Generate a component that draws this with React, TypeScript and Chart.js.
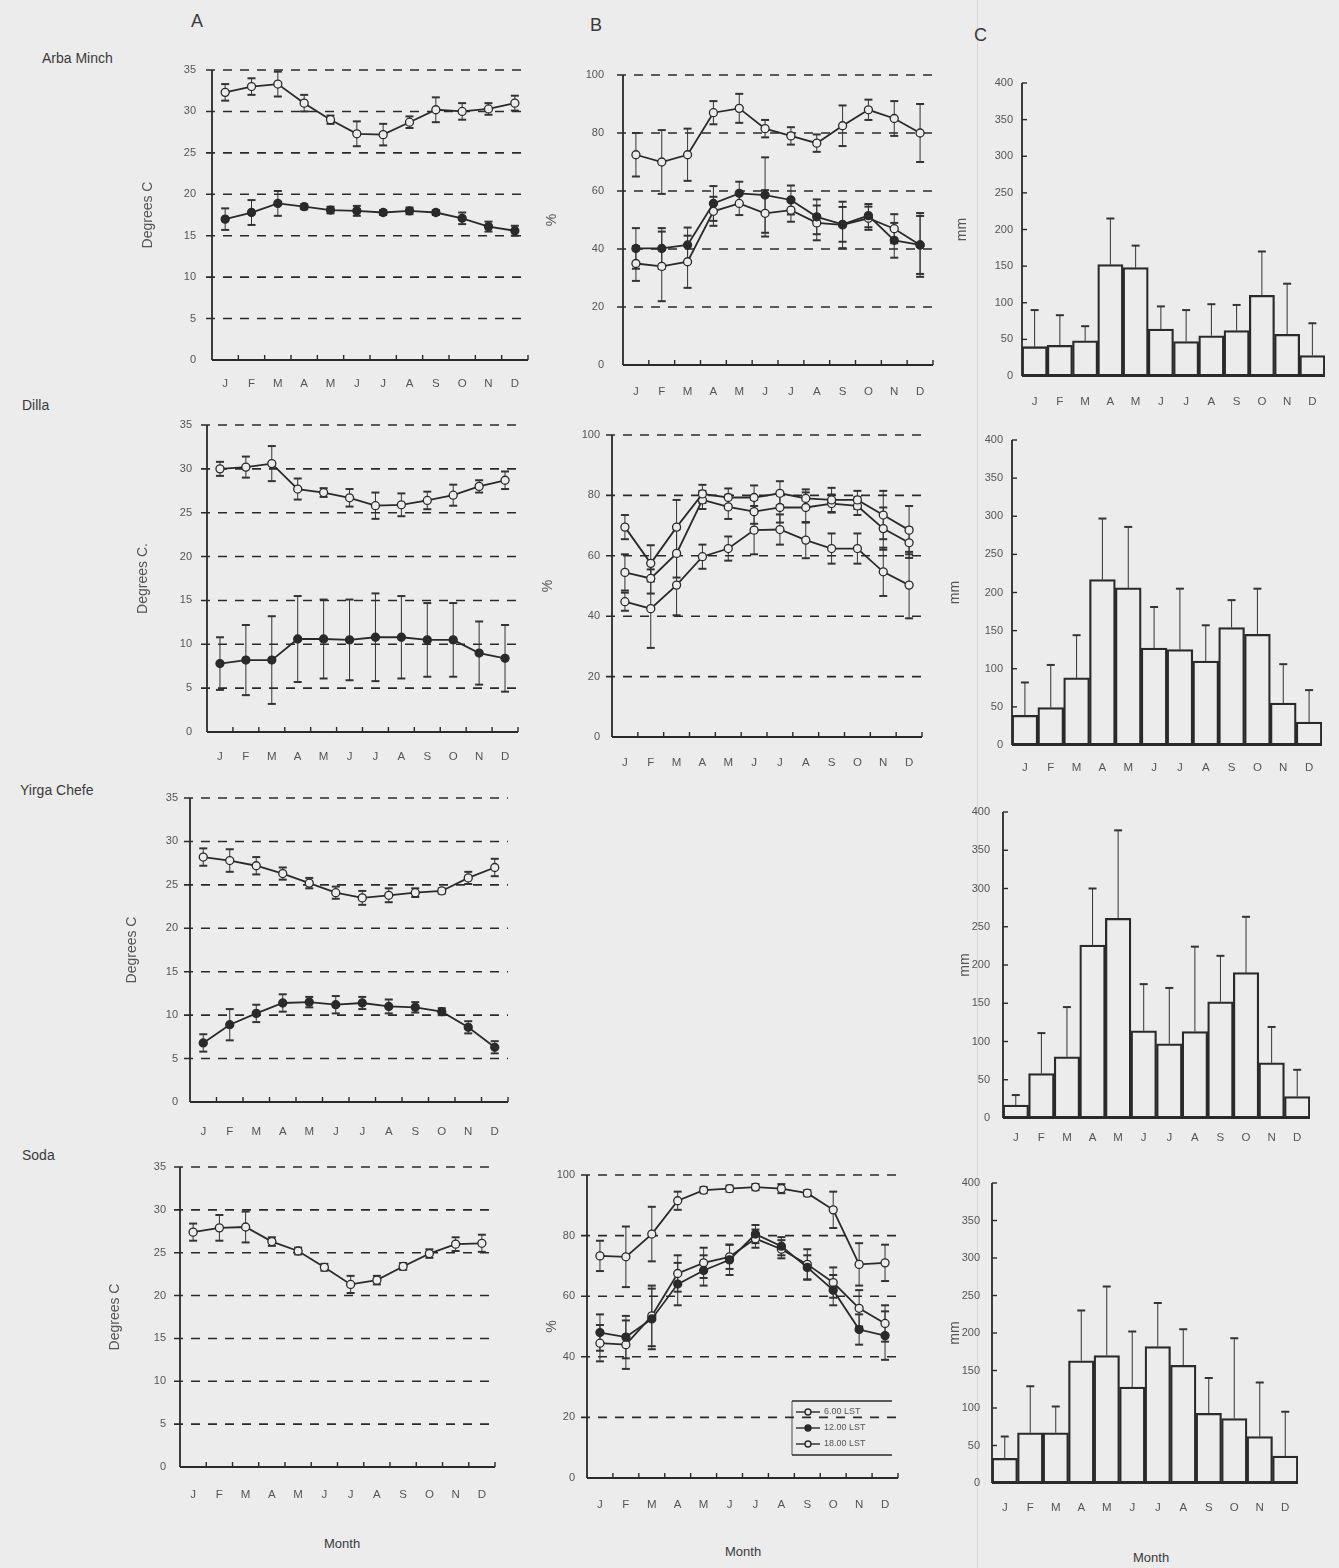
import React, { useEffect, useRef } from "react";
import { Chart, registerables } from "chart.js";

Chart.register(...registerables);

const PAPER = "#ececec";
const INK = "#2a2a2a";
const TEXT = "#555555";
const FONT = "'Liberation Sans', Arial, sans-serif";

const MONTHS = ["J", "F", "M", "A", "M", "J", "J", "A", "S", "O", "N", "D"];
const RH_LABELS = ["6.00 LST", "12.00 LST", "18.00 LST"];

// ---- Arba Minch ----
const arbaMax = [32.3, 33.0, 33.3, 31.0, 29.0, 27.3, 27.2, 28.7, 30.2, 30.0, 30.3, 31.0];
const arbaMaxErr = [1.0, 1.0, 1.5, 1.0, 0.5, 1.5, 1.3, 0.7, 1.5, 1.0, 0.7, 0.9];
const arbaMin = [17.0, 17.8, 18.9, 18.5, 18.1, 18.0, 17.8, 18.0, 17.8, 17.1, 16.1, 15.6];
const arbaMinErr = [1.3, 1.5, 1.5, 0.3, 0.4, 0.6, 0.3, 0.4, 0.3, 0.7, 0.6, 0.6];
const arbaRH06 = [72.5, 70, 72.5, 87, 88.5, 81.5, 79, 76.5, 82.5, 88, 85, 80];
const arbaRH06Err = [7.5, 11, 9, 4, 5, 3, 3, 3, 7, 3.5, 6, 10];
const arbaRH12 = [40.2, 40.2, 41.4, 55.7, 59.2, 58.6, 56.9, 51.1, 48.5, 51.5, 43, 41.4];
const arbaRH12Err = [7, 7, 6, 6, 4, 13, 5, 6, 6, 4, 6, 10];
const arbaRH18 = [35, 34, 35.6, 53, 55.7, 52.3, 53.4, 49, 48.3, 50.6, 47, 41.4];
const arbaRH18Err = [6, 12, 9, 5, 4, 8, 4, 6, 8, 4, 5, 11];
const arbaRain = [40, 42, 48, 152, 148, 64, 47, 55, 62, 110, 57, 28];
const arbaRainErr = [50, 41, 20, 63, 30, 31, 43, 43, 35, 60, 69, 44];

// ---- Dilla ----
const dillaMax = [30.0, 30.2, 30.6, 27.7, 27.3, 26.7, 25.8, 25.9, 26.4, 27.0, 28.0, 28.7];
const dillaMaxErr = [0.8, 1.2, 2.0, 1.2, 0.5, 1.0, 1.5, 1.3, 1.0, 1.2, 0.7, 1.0];
const dillaMin = [7.8, 8.2, 8.2, 10.6, 10.6, 10.5, 10.8, 10.8, 10.5, 10.5, 9.0, 8.4];
const dillaMinErr = [3.0, 4.0, 5.0, 4.9, 4.5, 4.6, 5.0, 4.7, 4.2, 4.2, 3.6, 3.8];
const dillaRH06 = [69.5, 57.5, 69.5, 80.5, 79.3, 79.3, 80.7, 79, 78.5, 78.5, 73.5, 68.5];
const dillaRH06Err = [4, 6, 9, 3, 3, 4, 4, 3, 4, 3, 8, 8];
const dillaRH12 = [54.5, 52.5, 60.8, 78.5, 76.2, 74.6, 76, 76, 77.3, 76.5, 69, 64.3];
const dillaRH12Err = [6, 5, 8, 3, 4, 4, 5, 5, 3, 3, 7, 5];
const dillaRH18 = [44.8, 42.5, 50.3, 59.7, 62.4, 68.5, 68.7, 65.2, 62.4, 62.4, 54.7, 50.3];
const dillaRH18Err = [3, 13, 10, 4, 4, 8, 5, 6, 5, 5, 8, 11];
const dillaRain = [39, 49, 88, 217, 206, 127, 125, 110, 154, 145, 55, 30];
const dillaRainErr = [43, 56, 56, 80, 80, 54, 80, 47, 36, 60, 51, 42];

// ---- Yirga Chefe ----
const yirgaMax = [28.2, 27.8, 27.2, 26.3, 25.2, 24.1, 23.5, 23.8, 24.1, 24.3, 25.8, 27.0];
const yirgaMaxErr = [1.0, 1.3, 1.0, 0.7, 0.6, 0.7, 0.8, 0.8, 0.5, 0.3, 0.7, 1.0];
const yirgaMin = [6.8, 8.9, 10.2, 11.4, 11.5, 11.2, 11.4, 11.0, 10.9, 10.4, 8.6, 6.3];
const yirgaMinErr = [1.0, 1.8, 1.0, 1.0, 0.6, 1.0, 0.7, 0.8, 0.6, 0.4, 0.7, 0.7];
const yirgaRain = [17, 58, 80, 226, 261, 114, 97, 113, 152, 190, 72, 28];
const yirgaRainErr = [13, 53, 65, 74, 115, 61, 73, 111, 60, 73, 47, 35];

// ---- Soda ----
const sodaMax = [27.4, 27.9, 28.0, 26.3, 25.2, 23.3, 21.3, 21.8, 23.4, 24.9, 26.0, 26.1];
const sodaMaxErr = [1.0, 1.5, 1.8, 0.5, 0.4, 0.4, 1.0, 0.5, 0.4, 0.5, 0.8, 1.0];
const sodaRH06 = [73.3, 73, 80.5, 91.5, 95, 95.5, 96, 95.5, 94, 88.5, 70.5, 71];
const sodaRH06Err = [5, 10, 9, 3, 1, 1, 1, 1.5, 1, 6, 7, 6];
const sodaRH12 = [48, 46.5, 52.5, 64, 68.5, 72, 80.5, 76.5, 69.5, 62, 49, 47];
const sodaRH12Err = [6, 7, 10, 7, 5, 5, 3, 3, 4, 5, 5, 8];
const sodaRH18 = [44.5, 44, 53.5, 67.5, 71, 73, 79, 75.5, 70.5, 64.5, 56, 51];
const sodaRH18Err = [6, 8, 10, 6, 5, 4, 3, 3, 5, 5, 6, 6];
const sodaRain = [33, 67, 67, 163, 170, 128, 182, 157, 93, 86, 62, 36];
const sodaRainErr = [29, 62, 35, 67, 92, 74, 58, 48, 47, 107, 72, 59];

type Series = { label: string; values: number[]; errors: number[]; filled: boolean };
type Geo = { L: number; T: number; R: number; B: number; titleX: number; labelRight: number; labelY: number };

const line = (ctx: CanvasRenderingContext2D, x1: number, y1: number, x2: number, y2: number) => {
  ctx.beginPath();
  ctx.moveTo(x1, y1);
  ctx.lineTo(x2, y2);
  ctx.stroke();
};

const paperPlugin = {
  id: "paper",
  beforeDatasetsDraw(chart: any, _a: any, opts: any) {
    const { ctx, chartArea } = chart;
    const { left, right, top, bottom } = chartArea;
    const x = chart.scales.x;
    const y = chart.scales.y;
    ctx.save();
    ctx.strokeStyle = INK;
    if (opts.grid) {
      ctx.setLineDash([9, 8]);
      ctx.lineWidth = 1.6;
      y.ticks.forEach((t: any) => {
        if (t.value === 0) return;
        const py = y.getPixelForValue(t.value);
        line(ctx, left - 6, py, right, py);
      });
    }
    ctx.setLineDash([]);
    ctx.lineWidth = 1.8;
    line(ctx, left, top, left, bottom);
    line(ctx, left, bottom, right, bottom);
    ctx.lineWidth = 1.4;
    if (opts.innerY) {
      y.ticks.forEach((t: any) => {
        const py = y.getPixelForValue(t.value);
        line(ctx, left, py, left + 5, py);
      });
    }
    if (opts.xMarks) {
      const p0 = x.getPixelForValue(0);
      const w = x.getPixelForValue(1) - p0;
      for (let k = 1; k <= 12; k++) {
        const px = p0 + (k - 0.5) * w;
        line(ctx, px, bottom, px, bottom - 5);
      }
    }
    ctx.restore();
  },
};

const drawErrors = (chart: any, isBar: boolean) => {
  const { ctx } = chart;
  const y = chart.scales.y;
  ctx.save();
  ctx.strokeStyle = "#333";
  chart.data.datasets.forEach((ds: any, di: number) => {
    const errs: number[] | undefined = ds.errors;
    if (!errs) return;
    const meta = chart.getDatasetMeta(di);
    meta.data.forEach((el: any, i: number) => {
      const v = ds.data[i];
      const e = errs[i];
      const px = el.x;
      const yTop = y.getPixelForValue(v + e);
      const yBot = isBar ? y.getPixelForValue(v) : y.getPixelForValue(v - e);
      ctx.lineWidth = 1;
      line(ctx, px, yTop, px, yBot);
      ctx.lineWidth = 2;
      line(ctx, px - 4, yTop, px + 4, yTop);
      if (!isBar) line(ctx, px - 4, yBot, px + 4, yBot);
    });
  });
  ctx.restore();
};

const errorPlugin = {
  id: "errbars",
  beforeDatasetsDraw(chart: any) {
    if (chart.config.type === "line") drawErrors(chart, false);
  },
  afterDatasetsDraw(chart: any) {
    if (chart.config.type === "bar") drawErrors(chart, true);
  },
};

const boxLegendPlugin = {
  id: "boxLegend",
  afterDraw(chart: any, _a: any, opts: any) {
    if (!opts.display) return;
    const { ctx, chartArea } = chart;
    const n = chart.data.datasets.length;
    const w = 100;
    const rowH = 16;
    const h = rowH * n + 6;
    const right = chartArea.right - 6;
    const bottom = chartArea.bottom - 23;
    const left = right - w;
    const top = bottom - h;
    ctx.save();
    ctx.strokeStyle = INK;
    ctx.lineWidth = 1.4;
    line(ctx, left, top, right, top);
    line(ctx, left, bottom, right, bottom);
    ctx.lineWidth = 0.8;
    line(ctx, left, top, left, bottom);
    ctx.font = `9px ${FONT}`;
    ctx.textBaseline = "middle";
    chart.data.datasets.forEach((ds: any, i: number) => {
      const cy = top + 3 + rowH * (i + 0.5);
      ctx.strokeStyle = INK;
      ctx.lineWidth = 1.4;
      line(ctx, left + 4, cy, left + 28, cy);
      ctx.beginPath();
      ctx.arc(left + 16, cy, 3, 0, Math.PI * 2);
      ctx.fillStyle = ds.pointBackgroundColor;
      ctx.fill();
      ctx.stroke();
      ctx.fillStyle = TEXT;
      ctx.fillText(ds.label, left + 32, cy);
    });
    ctx.restore();
  },
};

function Panel(props: {
  geo: Geo;
  kind: "line" | "bar";
  yMax: number;
  yStep: number;
  yTitle: string;
  series: Series[];
  legend?: boolean;
}) {
  const { geo, kind, yMax, yStep, yTitle, series, legend } = props;
  const ref = useRef<HTMLCanvasElement>(null);
  const lh = 14 * 1.2;
  const canvasLeft = Math.round(geo.titleX - lh / 2);
  const padTop = 12;
  const padRight = 12;
  const canvasTop = geo.T - padTop;
  const xH = geo.labelY - geo.B + 12;
  const width = Math.round(geo.R - canvasLeft + padRight);
  const height = Math.round(geo.B - canvasTop + xH);

  useEffect(() => {
    if (!ref.current) return;
    const datasets = series.map((s) =>
      kind === "line"
        ? {
            label: s.label,
            data: s.values,
            errors: s.errors,
            borderColor: INK,
            borderWidth: 1.8,
            pointRadius: 4,
            pointBorderWidth: 1.3,
            pointBackgroundColor: s.filled ? INK : PAPER,
            pointBorderColor: INK,
            tension: 0,
            fill: false,
          }
        : {
            label: s.label,
            data: s.values,
            errors: s.errors,
            backgroundColor: "rgba(0,0,0,0)",
            borderColor: INK,
            borderWidth: 1.6,
            barPercentage: 1,
            categoryPercentage: 1,
            borderSkipped: false,
          }
    );
    const chart = new Chart(ref.current, {
      type: kind,
      data: { labels: MONTHS, datasets: datasets as any },
      options: {
        animation: false,
        responsive: false,
        maintainAspectRatio: false,
        layout: { padding: { top: padTop, right: padRight, left: 0, bottom: 0 } },
        plugins: {
          legend: { display: false },
          tooltip: { enabled: false },
          paper: { grid: kind === "line", xMarks: kind === "line", innerY: kind === "bar" },
          boxLegend: { display: !!legend },
        } as any,
        scales: {
          x: {
            type: "category",
            offset: true,
            grid: { display: false, drawTicks: false },
            border: { display: false },
            ticks: {
              padding: geo.labelY - geo.B - 7,
              color: TEXT,
              font: { family: FONT, size: 11.5 },
              autoSkip: false,
              maxRotation: 0,
            },
            afterFit: (s: any) => {
              s.height = xH;
              s.paddingLeft = 0;
              s.paddingRight = 0;
            },
          },
          y: {
            min: 0,
            max: yMax,
            ticks: {
              stepSize: yStep,
              padding: geo.L - geo.labelRight,
              color: TEXT,
              font: { family: FONT, size: 11 },
            },
            grid: { display: false, drawTicks: false },
            border: { display: false },
            title: {
              display: true,
              text: yTitle,
              padding: 0,
              color: TEXT,
              font: { family: FONT, size: 14 },
            },
            afterFit: (s: any) => {
              s.width = geo.L - canvasLeft;
              s.paddingTop = 0;
              s.paddingBottom = 0;
            },
          },
        } as any,
      },
      plugins: [paperPlugin, errorPlugin, boxLegendPlugin],
    });
    return () => chart.destroy();
  }, []);

  return (
    <canvas
      ref={ref}
      width={width}
      height={height}
      style={{ position: "absolute", left: canvasLeft, top: canvasTop, width, height }}
    />
  );
}

const tempSeries = (mx: number[], mxE: number[], mn?: number[], mnE?: number[]): Series[] => {
  const out: Series[] = [{ label: "Maximum", values: mx, errors: mxE, filled: false }];
  if (mn && mnE) out.push({ label: "Minimum", values: mn, errors: mnE, filled: true });
  return out;
};

const rhSeries = (a: number[], aE: number[], b: number[], bE: number[], c: number[], cE: number[], midFilled: boolean): Series[] => [
  { label: RH_LABELS[0], values: a, errors: aE, filled: false },
  { label: RH_LABELS[1], values: b, errors: bE, filled: midFilled },
  { label: RH_LABELS[2], values: c, errors: cE, filled: false },
];

const rainSeries = (v: number[], e: number[]): Series[] => [{ label: "Rainfall", values: v, errors: e, filled: false }];

const txt = (s: string, left: number, top: number, size: number, extra: any = {}) => (
  <div
    style={{
      position: "absolute",
      left,
      top,
      fontFamily: FONT,
      fontSize: size,
      color: "#3a3a3a",
      whiteSpace: "nowrap",
      lineHeight: 1,
      ...extra,
    }}
  >
    {s}
  </div>
);

export default function App() {
  return (
    <div
      style={{
        position: "absolute",
        left: 0,
        top: 0,
        width: 1339,
        height: 1568,
        background: PAPER,
        overflow: "hidden",
      }}
    >
      <div style={{ position: "absolute", left: 977, top: 0, width: 1, height: 1568, background: "#d6d6d6" }} />
      {txt("A", 191, 12, 18)}
      {txt("B", 590, 16, 18)}
      {txt("C", 974, 26, 18)}
      {txt("Arba Minch", 42, 51, 14)}
      {txt("Dilla", 22, 398, 14)}
      {txt("Yirga Chefe", 20, 783, 14)}
      {txt("Soda", 22, 1148, 14)}
      {txt("Month", 324, 1537, 13)}
      {txt("Month", 725, 1545, 13)}
      {txt("Month", 1133, 1551, 13)}

      <Panel geo={{ L: 212, T: 70, R: 528, B: 360, titleX: 148, labelRight: 196, labelY: 384 }} kind="line" yMax={35} yStep={5} yTitle="Degrees C" series={tempSeries(arbaMax, arbaMaxErr, arbaMin, arbaMinErr)} />
      <Panel geo={{ L: 623, T: 75, R: 933, B: 365, titleX: 552, labelRight: 604, labelY: 392 }} kind="line" yMax={100} yStep={20} yTitle="%" series={rhSeries(arbaRH06, arbaRH06Err, arbaRH12, arbaRH12Err, arbaRH18, arbaRH18Err, true)} />
      <Panel geo={{ L: 1022, T: 83, R: 1325, B: 376, titleX: 962, labelRight: 1013, labelY: 402 }} kind="bar" yMax={400} yStep={50} yTitle="mm" series={rainSeries(arbaRain, arbaRainErr)} />

      <Panel geo={{ L: 207, T: 425, R: 518, B: 732, titleX: 143, labelRight: 192, labelY: 757 }} kind="line" yMax={35} yStep={5} yTitle="Degrees C." series={tempSeries(dillaMax, dillaMaxErr, dillaMin, dillaMinErr)} />
      <Panel geo={{ L: 612, T: 435, R: 922, B: 737, titleX: 548, labelRight: 600, labelY: 763 }} kind="line" yMax={100} yStep={20} yTitle="%" series={rhSeries(dillaRH06, dillaRH06Err, dillaRH12, dillaRH12Err, dillaRH18, dillaRH18Err, false)} />
      <Panel geo={{ L: 1012, T: 440, R: 1322, B: 745, titleX: 955, labelRight: 1003, labelY: 768 }} kind="bar" yMax={400} yStep={50} yTitle="mm" series={rainSeries(dillaRain, dillaRainErr)} />

      <Panel geo={{ L: 190, T: 798, R: 508, B: 1102, titleX: 132, labelRight: 178, labelY: 1132 }} kind="line" yMax={35} yStep={5} yTitle="Degrees C" series={tempSeries(yirgaMax, yirgaMaxErr, yirgaMin, yirgaMinErr)} />
      <Panel geo={{ L: 1003, T: 812, R: 1310, B: 1118, titleX: 965, labelRight: 990, labelY: 1138 }} kind="bar" yMax={400} yStep={50} yTitle="mm" series={rainSeries(yirgaRain, yirgaRainErr)} />

      <Panel geo={{ L: 180, T: 1167, R: 495, B: 1467, titleX: 115, labelRight: 166, labelY: 1495 }} kind="line" yMax={35} yStep={5} yTitle="Degrees C" series={tempSeries(sodaMax, sodaMaxErr)} />
      <Panel geo={{ L: 587, T: 1175, R: 898, B: 1478, titleX: 552, labelRight: 575, labelY: 1505 }} kind="line" yMax={100} yStep={20} yTitle="%" series={rhSeries(sodaRH06, sodaRH06Err, sodaRH12, sodaRH12Err, sodaRH18, sodaRH18Err, true)} legend />
      <Panel geo={{ L: 992, T: 1183, R: 1298, B: 1483, titleX: 955, labelRight: 980, labelY: 1508 }} kind="bar" yMax={400} yStep={50} yTitle="mm" series={rainSeries(sodaRain, sodaRainErr)} />
    </div>
  );
}
